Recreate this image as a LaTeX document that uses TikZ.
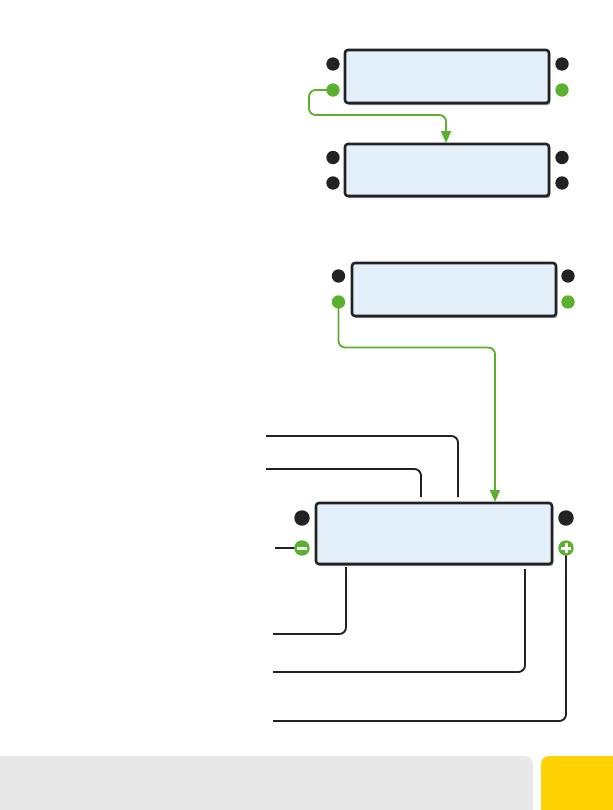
\documentclass[tikz,border=0pt]{standalone}
\usetikzlibrary{arrows.meta,shadows,calc}
\definecolor{boxfill}{HTML}{E3F0FA}
\definecolor{ink}{HTML}{222222}
\definecolor{grn}{HTML}{5BB02F}
\definecolor{band}{HTML}{E8E8E8}
\definecolor{tab}{HTML}{FFD204}
\tikzset{
  x=0.75pt,y=-0.75pt,
  lcd/.style={draw=ink,line width=1.9pt,fill=boxfill,rounded corners=2.2pt,inner sep=0pt,
     drop shadow={shadow xshift=1.1pt,shadow yshift=-1.5pt,opacity=0.4,fill=black}},
  dot/.style={circle,fill=ink,draw=none,inner sep=0pt,minimum size=10pt},
  gdot/.style={dot,fill=grn},
  bigdot/.style={dot,minimum size=11.6pt},
  biggdot/.style={dot,fill=grn,minimum size=11.6pt},
  gwire/.style={draw=grn,line width=1.4pt,rounded corners=5pt},
  bwire/.style={draw=ink,line width=1.4pt,rounded corners=5pt},
  gtip/.style={-{Triangle[length=9pt,width=7.5pt]}},
  sign/.style={fill=white,draw=none},
}
\begin{document}
\begin{tikzpicture}
\useasboundingbox (0,0) rectangle (612,810);
% footer
\fill[band,rounded corners=6pt] (-20,756) rectangle (533,830);
\fill[tab,rounded corners=6pt] (541,756) rectangle (640,830);
% displays
\node[lcd,minimum width=153pt,minimum height=39.75pt] (A) at (447,76.5) {};
\node[lcd,minimum width=153pt,minimum height=39pt] (B) at (447,170) {};
\node[lcd,minimum width=153pt,minimum height=39.75pt] (C) at (454,289.5) {};
\node[lcd,minimum width=177pt,minimum height=45.75pt] (D) at (434,533.5) {};
% free ends
\coordinate (n1) at (266,436);
\coordinate (n2) at (266,469);
\coordinate (n3) at (275,548);
\coordinate (n4) at (273,634);
\coordinate (n5) at (273,672);
\coordinate (n6) at (273,721);
\coordinate (t1) at (458,497);
\coordinate (t2) at (421,497);
\coordinate (b5) at (346,567);
\coordinate (b6) at (525,569);
\coordinate (ta) at (446,143);
\coordinate (td) at (495,502);
% terminal positions
\coordinate (a2p) at (333,90);
\coordinate (c2p) at (338.5,302);
\coordinate (d2p) at (302,548);
\coordinate (d4p) at (566,548);
% green connectors
\draw[gwire,gtip] (a2p) -- (309,90) -- (309,115) -- (446,115) -- (ta);
\draw[gwire,gtip] (c2p) -- (338.5,347.5) -- (495,347.5) -- (td);
% black connectors
\draw[bwire] (n1) -- (458,436) -- (t1);
\draw[bwire] (n2) -- (421,469) -- (t2);
\draw[bwire] (n3) -- (d2p);
\draw[bwire] (b5) -- (346,634) -- (n4);
\draw[bwire] (b6) -- (525,672) -- (n5);
\draw[bwire] (d4p) -- (566,721) -- (n6);
% terminals
\node[dot] (a1) at (333,64) {};
\node[gdot] (a2) at (a2p) {};
\node[dot] (a3) at (562,64) {};
\node[gdot] (a4) at (562,90) {};
\node[dot] (b1) at (333,157.5) {};
\node[dot] (b2) at (333,183) {};
\node[dot] (b3) at (562,157.5) {};
\node[dot] (b4) at (562,183) {};
\node[dot] (c1) at (338.5,276) {};
\node[gdot] (c2) at (c2p) {};
\node[dot] (c3) at (568,276) {};
\node[gdot] (c4) at (568,302) {};
\node[bigdot] (d1) at (302,518) {};
\node[biggdot] (d2) at (d2p) {};
\node[bigdot] (d3) at (566,518) {};
\node[biggdot] (d4) at (d4p) {};
\fill[sign] (297,546.6) rectangle (307,549.6);
\fill[sign] (561,546.6) rectangle (571,549.6);
\fill[sign] (564.5,543) rectangle (567.5,553);
\end{tikzpicture}
\end{document}
